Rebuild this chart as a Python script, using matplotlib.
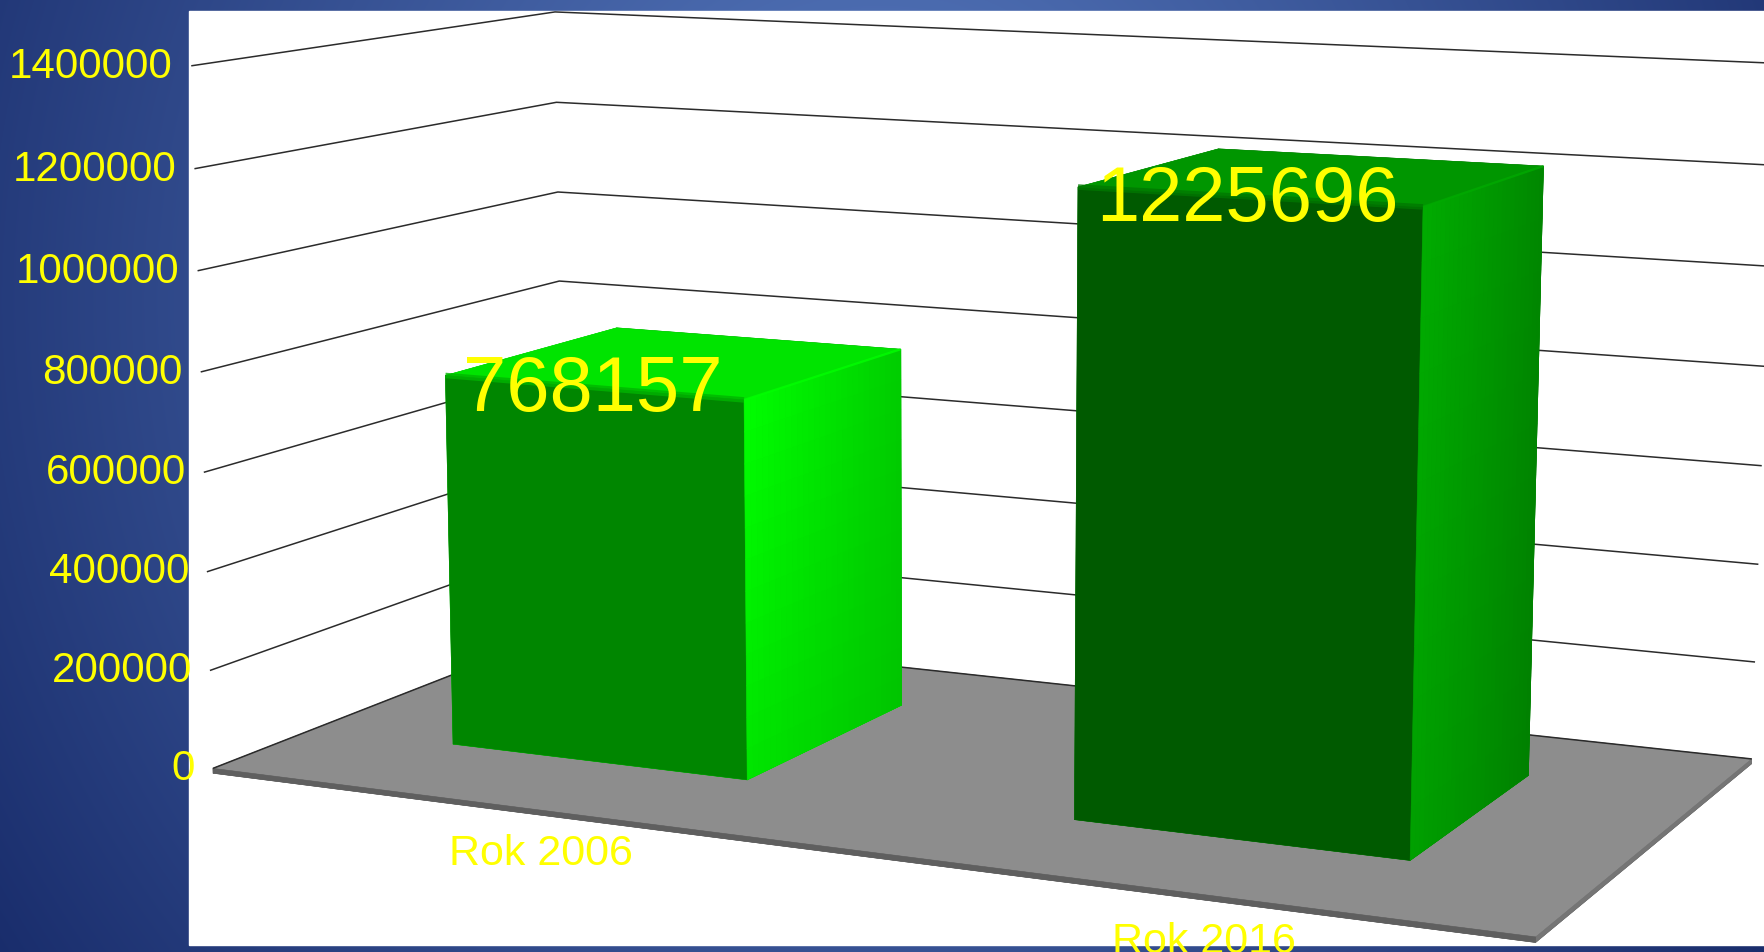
import numpy as np
import matplotlib
matplotlib.use("Agg")
import matplotlib.pyplot as plt
from matplotlib.patches import Rectangle
from mpl_toolkits.mplot3d.art3d import Poly3DCollection, Line3DCollection

plt.rcParams["font.family"] = ["Liberation Sans", "DejaVu Sans"]

# data
categories = ["Rok 2006", "Rok 2016"]
values = [768157, 1225696]
tick_values = [0, 200000, 400000, 600000, 800000, 1000000, 1200000, 1400000]

YELLOW = "#ffff00"
W, H = 1765, 952

# camera calibration: world point (x, y, value) -> pixel of the picture
world_pts = np.array([
    [0, 0, 0], [2, 0, 0], [2, 1, 0], [0, 1, 0],
    [0, 0, 1400000], [0, 1, 1400000], [2, 1, 1400000],
], dtype=float)
pixel_pts = np.array([
    [211, 769], [1536, 936], [1751, 760], [567, 630],
    [193, 66], [553, 12], [1776, 63],
], dtype=float)


def fit_camera(world, pixel):
    # direct linear transform, in a 0-1 box so the solve stays stable
    scale = np.array([2.0, 1.0, 1400000.0])
    w = world / scale
    rows, rhs = [], []
    for (a, b, c), (px, py) in zip(w, pixel):
        rows.append([a, b, c, 1, 0, 0, 0, 0, -px * a, -px * b, -px * c])
        rows.append([0, 0, 0, 0, a, b, c, 1, -py * a, -py * b, -py * c])
        rhs += [px, py]
    h = np.linalg.lstsq(np.array(rows), np.array(rhs), rcond=None)[0]
    cam = np.append(h, 1.0).reshape(3, 4)
    cam[:, :3] = cam[:, :3] / scale
    return cam


camera = fit_camera(world_pts, pixel_pts)

fig = plt.figure(figsize=(W / 100, H / 100), dpi=100)

# slide background and the white chart panel
ax_bg = fig.add_axes([0, 0, 1, 1], zorder=0)
yy, xx = np.mgrid[0:H, 0:W]
r = np.clip(np.hypot((xx - 880) / 880, (yy - 300) / 950) / 1.35, 0, 1)[..., None]
bg = (np.array([92, 128, 198]) * (1 - r) + np.array([18, 36, 98]) * r) / 255
ax_bg.imshow(bg, extent=(0, W, H, 0), aspect="auto")
ax_bg.add_patch(Rectangle((189, 11), W - 189, 934, color="white"))
ax_bg.set_xticks([])
ax_bg.set_yticks([])
ax_bg.set_axis_off()

ax = fig.add_axes([0, 0, 1, 1], projection="3d", zorder=1)
ax.set_axis_off()
ax.patch.set_visible(False)
ax.computed_zorder = False
ax.apply_aspect = lambda position=None: None  # keep the full figure, not a square


def get_proj():
    inv = ax.transData.inverted()
    x0, y0 = inv.transform((0, H))
    x1, y1 = inv.transform((W, 0))
    sx, sy = (x1 - x0) / W, (y1 - y0) / H
    return np.array([
        sx * camera[0] + x0 * camera[2],
        sy * camera[1] + y0 * camera[2],
        [-0.05, 0.3, -0.2 / 1400000, 0.5],
        camera[2],
    ])


ax.get_proj = get_proj

# floor
floor_depth = 10000
floor_cols = ["#555555", "#8d8d8d", "#5f5f5f", "#5f5f5f", "#757575", "#757575"]
ax.bar3d(0, 0, -floor_depth, 2, 1, floor_depth, color=floor_cols, edgecolor=floor_cols,
         linewidth=0.4, shade=False, zorder=1)

# walls
wall_lines = [[(0, 0, v), (0, 1, v), (2, 1, v)] for v in tick_values]
ax.add_collection3d(Line3DCollection(wall_lines, colors="#2b2b2b", linewidths=1.1, zorder=2))

# bars: -z, +z, -y, +y, -x, +x
bar_left = [0.238, 1.243]
bar_w = 0.492
bar_front = 0.27
bar_deep = 0.50
bar_scale = 0.99  # the source chart draws its bars a touch short of the gridlines
bar_faces = [
    ["#00e000", "#00e400", "#008600", "#008600", "#00c800", "#00d400"],
    ["#009000", "#009600", "#005a00", "#005a00", "#008a00", "#009400"],
]
# right face shading, green channel: front top, back top, front bottom, back bottom
right_shade = [(255, 205, 228, 196), (172, 135, 160, 128)]
# soft edges: top/front blend and the bright ridge between top and right side
front_edge = ["#00b500", "#007800"]
ridge = ["#00ff00", "#00aa00"]
label_x = [0.548, 1.548]

for i, val in enumerate(values):
    top = val * bar_scale
    ax.bar3d(bar_left[i], bar_front, 0, bar_w, bar_deep, top, color=bar_faces[i],
             edgecolor=bar_faces[i], linewidth=0.4, shade=False, zorder=3 + i)

    # soft shading on the right side
    ft, bt, fb, bb = right_shade[i]
    xr = bar_left[i] + bar_w
    quads, cols = [], []
    n_y, n_z = 28, 12
    for a in range(n_y):
        y0 = bar_front + bar_deep * a / n_y
        y1 = bar_front + bar_deep * (a + 1) / n_y
        for b in range(n_z):
            z0 = top * b / n_z
            z1 = top * (b + 1) / n_z
            t = (a + 0.5) / n_y
            s = (b + 0.5) / n_z
            g = (ft * (1 - t) + bt * t) * s + (fb * (1 - t) + bb * t) * (1 - s)
            quads.append([(xr, y0, z0), (xr, y1, z0), (xr, y1, z1), (xr, y0, z1)])
            cols.append((0, g / 255, 0))
    ax.add_collection3d(Poly3DCollection(quads, facecolors=cols, edgecolors=cols,
                                         linewidths=0.4, zorder=3 + i))

    # edges of the bar
    ax.add_collection3d(Line3DCollection(
        [[(bar_left[i], bar_front, top), (xr, bar_front, top)]],
        colors=front_edge[i], linewidths=4, alpha=0.8, capstyle="butt", zorder=3 + i))
    ax.add_collection3d(Line3DCollection(
        [[(xr, bar_front, top), (xr, bar_front + bar_deep, top)]],
        colors=ridge[i], linewidths=1.6, alpha=0.8, capstyle="butt", zorder=3 + i))

    # value label, centred on the front top edge
    ax.text(bar_left[i] + bar_w / 2, bar_front, top - 7000, str(val), color=YELLOW, fontsize=56,
            ha="center", va="center", zorder=10)
    # category label under the front edge
    ax.text(label_x[i], 0, -88000, categories[i], color=YELLOW, fontsize=31,
            ha="center", va="center", zorder=10)

# value axis labels
for v in tick_values:
    ax.text(-0.031, 0, v - 5000, str(v), color=YELLOW, fontsize=30.3, ha="right", va="center", zorder=10)

# the hidden 3d axes should not keep tick labels of their own
ax.set_xticks([])
ax.set_yticks([])
ax.set_zticks([])

fig.savefig("out.png", dpi=100)
